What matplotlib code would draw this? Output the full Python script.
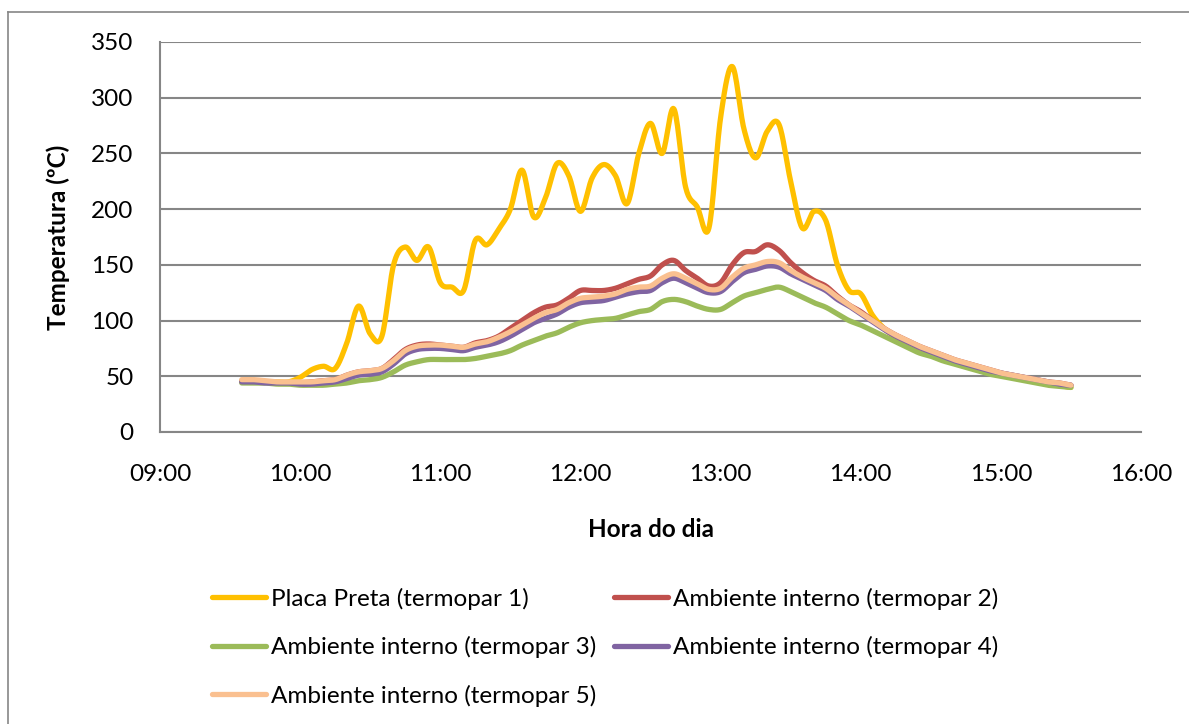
import numpy as np
import matplotlib.pyplot as plt
from matplotlib.lines import Line2D
from matplotlib.ticker import FuncFormatter, MultipleLocator

plt.rcParams['font.family'] = ['Lato', 'DejaVu Sans']

# leituras a cada 5 minutos, das 09:35 as 15:30
minutos = np.arange(9 * 60 + 35, 15 * 60 + 31, 5)
horas = minutos / 60.0

placa_preta = [46, 46, 45, 45, 45, 49, 56, 59, 57, 80, 113, 88, 86, 150, 166, 154, 166, 134,
               130, 127, 172, 168, 182, 200, 235, 193, 210, 241, 230, 198, 228, 240, 230, 205,
               250, 277, 250, 290, 220, 202, 183, 282, 328, 272, 246, 270, 276, 225, 183, 198,
               190, 150, 127, 124, 105, 93, 85, 79, 74, 70, 66, 63, 60, 57, 54, 52, 50, 48,
               46, 44, 42, 40]
termopar2 = [45, 45, 45, 44, 44, 44, 45, 46, 47, 51, 54, 55, 57, 65, 74, 78, 79, 78,
             77, 76, 80, 82, 86, 93, 100, 107, 112, 114, 120, 127, 127, 127, 129, 133,
             137, 140, 150, 154, 145, 138, 131, 134, 150, 161, 162, 168, 163, 152, 143, 136,
             131, 122, 114, 108, 100, 93, 87, 82, 77, 73, 69, 65, 62, 59, 56, 53, 51, 49,
             47, 45, 44, 42]
termopar3 = [44, 44, 44, 43, 43, 42, 42, 42, 43, 44, 46, 47, 49, 54, 60, 63, 65, 65,
             65, 65, 66, 68, 70, 73, 78, 82, 86, 89, 94, 98, 100, 101, 102, 105,
             108, 110, 117, 119, 117, 113, 110, 110, 116, 122, 125, 128, 130, 126, 121, 116,
             112, 106, 100, 96, 91, 86, 81, 76, 71, 68, 64, 61, 58, 55, 52, 50, 48, 46,
             44, 42, 41, 40]
termopar4 = [45, 45, 44, 44, 44, 43, 43, 44, 45, 48, 51, 52, 54, 61, 70, 74, 75, 75,
             74, 73, 76, 78, 81, 86, 92, 98, 102, 106, 112, 116, 117, 118, 121, 124,
             126, 127, 134, 138, 134, 129, 125, 126, 135, 143, 146, 149, 148, 142, 137, 132,
             127, 119, 113, 106, 99, 92, 86, 81, 76, 72, 68, 64, 61, 58, 55, 53, 51, 49,
             47, 45, 43, 42]
termopar5 = [47, 47, 46, 45, 45, 45, 45, 46, 47, 51, 54, 55, 57, 64, 73, 77, 78, 78,
             77, 76, 79, 81, 85, 90, 96, 102, 107, 110, 116, 120, 121, 122, 124, 128,
             130, 131, 138, 142, 138, 133, 128, 129, 139, 147, 150, 153, 152, 145, 139, 134,
             129, 121, 114, 107, 100, 93, 87, 82, 77, 73, 69, 65, 62, 59, 56, 53, 51, 49,
             47, 45, 44, 42]

series = [
    ('Placa Preta (termopar 1)', placa_preta, '#FFC000'),
    ('Ambiente interno (termopar 2)', termopar2, '#C0504D'),
    ('Ambiente interno (termopar 3)', termopar3, '#9BBB59'),
    ('Ambiente interno (termopar 4)', termopar4, '#8064A2'),
    ('Ambiente interno (termopar 5)', termopar5, '#FAC090'),
]


def suavizar(x, y, n=16):
    # curva Catmull-Rom passando pelos pontos medidos
    x = np.asarray(x, float)
    y = np.asarray(y, float)
    px = np.concatenate([[2 * x[0] - x[1]], x, [2 * x[-1] - x[-2]]])
    py = np.concatenate([[y[0]], y, [y[-1]]])
    t = np.linspace(0, 1, n, endpoint=False)[:, None]
    xs, ys = [], []
    for i in range(1, len(px) - 2):
        for p, out in ((px, xs), (py, ys)):
            p0, p1, p2, p3 = p[i - 1], p[i], p[i + 1], p[i + 2]
            c = 0.5 * ((2 * p1) + (-p0 + p2) * t + (2 * p0 - 5 * p1 + 4 * p2 - p3) * t ** 2
                       + (-p0 + 3 * p1 - 3 * p2 + p3) * t ** 3)
            out.append(c.ravel())
    xs.append([x[-1]])
    ys.append([y[-1]])
    return np.concatenate(xs), np.concatenate(ys)


fig = plt.figure(figsize=(11.89, 7.24), dpi=100)
ax = fig.add_axes([160 / 1189, 1 - 432 / 724, (1141 - 160) / 1189, (432 - 42) / 724])

linhas = []
for nome, valores, cor in series:
    xs, ys = suavizar(horas, valores)
    l, = ax.plot(xs, ys, color=cor, lw=3.8, solid_capstyle='round', label=nome)
    linhas.append(l)

ax.set_xlim(9, 16)
ax.set_ylim(0, 350)
ax.xaxis.set_major_locator(MultipleLocator(1))
ax.yaxis.set_major_locator(MultipleLocator(50))
ax.xaxis.set_major_formatter(FuncFormatter(lambda v, p: '%02d:00' % int(round(v))))
ax.grid(axis='y', color='#868686', lw=1.5)
ax.set_axisbelow(True)
for s in ('top', 'right'):
    ax.spines[s].set_visible(False)
for s in ('left', 'bottom'):
    ax.spines[s].set_color('#868686')
    ax.spines[s].set_linewidth(1.5)
ax.tick_params(axis='both', length=0, labelsize=17.5, colors='black')
ax.tick_params(axis='y', pad=19)
ax.tick_params(axis='x', pad=23)

ax.set_xlabel('Hora do dia', fontsize=17.5, fontweight='bold')
ax.xaxis.set_label_coords(0.5, -0.22)
ax.set_ylabel('Temperatura (ºC)', fontsize=17.5, fontweight='bold')
ax.yaxis.set_label_coords(-0.092, 0.5)

# legenda preenchida por linhas: 1 2 / 3 4 / 5
ordem = [0, 2, 4, 1, 3]
fig.legend([linhas[i] for i in ordem], [series[i][0] for i in ordem],
           loc='upper left', bbox_to_anchor=(202 / 1189, 1 - 578 / 724), ncol=2,
           frameon=False, fontsize=17.5, handlelength=2.25, handletextpad=0.2,
           columnspacing=0.7, labelspacing=1.08, borderaxespad=0)

# moldura externa (topo e lado esquerdo)
fig.add_artist(Line2D([8 / 1189, 1], [1 - 12 / 724] * 2, transform=fig.transFigure,
                      color='#868686', lw=1.2))
fig.add_artist(Line2D([8 / 1189] * 2, [0, 1 - 12 / 724], transform=fig.transFigure,
                      color='#868686', lw=1.2))

fig.savefig('out.png', dpi=100)
